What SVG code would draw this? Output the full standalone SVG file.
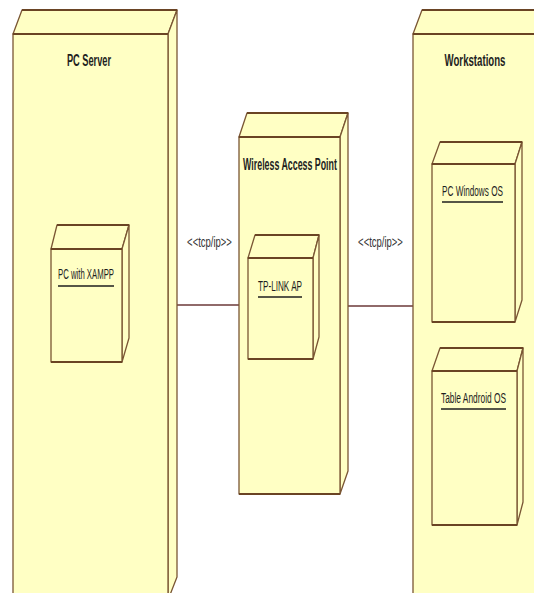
<svg xmlns="http://www.w3.org/2000/svg" width="534" height="593" viewBox="0 0 534 593">
<style>
.f{fill:#ffffc4;stroke:#7a5634;stroke-width:1.3;stroke-linejoin:round}
.e{fill:none;stroke:#6a4424;stroke-width:2}
.t{font-family:"Liberation Sans",Arial,sans-serif;font-weight:bold;font-size:17px;fill:#1e1e1e;text-anchor:middle}
.l{font-family:"Liberation Sans",Arial,sans-serif;font-size:14.5px;fill:#1e1e1e;text-anchor:middle}
.u{stroke:#1e1e1e;stroke-width:1.5}
.c{stroke:#6b3838;stroke-width:1.6;fill:none}
.s{font-family:"Liberation Sans",Arial,sans-serif;font-size:14px;fill:#333;text-anchor:middle}
</style>
<rect width="534" height="593" fill="#ffffff"/>
<g id="connectors">
<line class="c" x1="176" y1="305" x2="239" y2="305"/>
<line class="c" x1="348" y1="306" x2="413" y2="306"/>
<text class="s" transform="translate(209.5,247) scale(0.7,1)" x="0" y="0" textLength="64" lengthAdjust="spacingAndGlyphs">&lt;&lt;tcp/ip&gt;&gt;</text>
<text class="s" transform="translate(380.5,247) scale(0.7,1)" x="0" y="0" textLength="64" lengthAdjust="spacingAndGlyphs">&lt;&lt;tcp/ip&gt;&gt;</text>
</g>
<g id="pc-server">
<polygon class="f" points="13,34 22,10 177,10 168,34"/>
<polygon class="f" points="168,34 177,10 177,577 168,600"/>
<rect class="f" x="13" y="34" width="155" height="566"/>
<line class="e" x1="22" y1="10" x2="177" y2="10"/>
<line class="e" x1="13" y1="34" x2="168" y2="34"/>
<text class="t" transform="translate(89,66) scale(0.7,1)" x="0" y="0" textLength="63" lengthAdjust="spacingAndGlyphs">PC Server</text>
</g>
<g id="pc-xampp">
<polygon class="f" points="51,249 57,225 129,225 122,249"/>
<polygon class="f" points="122,249 129,225 129,338 122,362"/>
<rect class="f" x="51" y="249" width="71" height="113"/>
<line class="e" x1="57" y1="225" x2="129" y2="225"/>
<line class="e" x1="51" y1="249" x2="122" y2="249"/>
<line class="e" x1="51" y1="362" x2="122" y2="362"/>
<text class="l" transform="translate(86,279) scale(0.7,1)" x="0" y="0" textLength="80" lengthAdjust="spacingAndGlyphs">PC with XAMPP</text>
<line class="u" x1="58" y1="286" x2="114" y2="286"/>
</g>
<g id="wireless-ap">
<polygon class="f" points="239,137 247,113 348,113 340,137"/>
<polygon class="f" points="340,137 348,113 348,471 340,494"/>
<rect class="f" x="239" y="137" width="101" height="357"/>
<line class="e" x1="247" y1="113" x2="348" y2="113"/>
<line class="e" x1="239" y1="137" x2="340" y2="137"/>
<line class="e" x1="239" y1="494" x2="340" y2="494"/>
<text class="t" transform="translate(290,170) scale(0.7,1)" x="0" y="0" textLength="134" lengthAdjust="spacingAndGlyphs">Wireless Access Point</text>
</g>
<g id="tp-link">
<polygon class="f" points="248,258 255,235 319,235 313,258"/>
<polygon class="f" points="313,258 319,235 319,337 313,359"/>
<rect class="f" x="248" y="258" width="65" height="101"/>
<line class="e" x1="255" y1="235" x2="319" y2="235"/>
<line class="e" x1="248" y1="258" x2="313" y2="258"/>
<line class="e" x1="248" y1="359" x2="313" y2="359"/>
<text class="l" transform="translate(280,291) scale(0.7,1)" x="0" y="0" textLength="63" lengthAdjust="spacingAndGlyphs">TP-LINK AP</text>
<line class="u" x1="258" y1="297" x2="302" y2="297"/>
</g>
<g id="workstations">
<polygon class="f" points="413,34 422,10 560,10 551,34"/>
<rect class="f" x="413" y="34" width="140" height="580"/>
<line class="e" x1="422" y1="10" x2="560" y2="10"/>
<line class="e" x1="413" y1="34" x2="551" y2="34"/>
<text class="t" transform="translate(475,66) scale(0.7,1)" x="0" y="0" textLength="87" lengthAdjust="spacingAndGlyphs">Workstations</text>
</g>
<g id="pc-windows">
<polygon class="f" points="432,164 440,142 522,142 515,164"/>
<polygon class="f" points="515,164 522,142 522,300 515,322"/>
<rect class="f" x="432" y="164" width="83" height="158"/>
<line class="e" x1="440" y1="142" x2="522" y2="142"/>
<line class="e" x1="432" y1="164" x2="515" y2="164"/>
<line class="e" x1="432" y1="322" x2="515" y2="322"/>
<text class="l" transform="translate(472.5,196) scale(0.7,1)" x="0" y="0" textLength="87" lengthAdjust="spacingAndGlyphs">PC Windows OS</text>
<line class="u" x1="442" y1="202" x2="503" y2="202"/>
</g>
<g id="table-android">
<polygon class="f" points="432,371 440,348 523,348 517,371"/>
<polygon class="f" points="517,371 523,348 523,502 517,525"/>
<rect class="f" x="432" y="371" width="85" height="154"/>
<line class="e" x1="440" y1="348" x2="523" y2="348"/>
<line class="e" x1="432" y1="371" x2="517" y2="371"/>
<line class="e" x1="432" y1="525" x2="517" y2="525"/>
<text class="l" transform="translate(473.5,403) scale(0.7,1)" x="0" y="0" textLength="93" lengthAdjust="spacingAndGlyphs">Table Android OS</text>
<line class="u" x1="441" y1="409" x2="506" y2="409"/>
</g>
</svg>
